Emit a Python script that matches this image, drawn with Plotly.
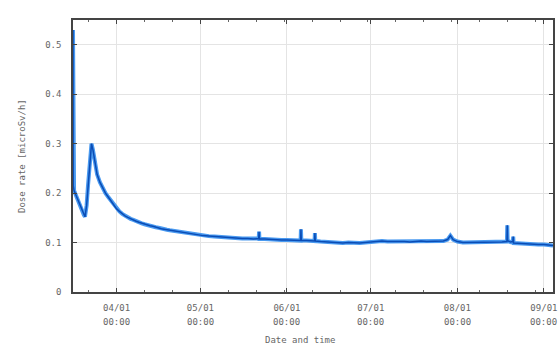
import plotly.graph_objects as go

# ---- data ----
times = [
    "2011-03-16 09:00", "2011-03-16 11:00", "2011-03-16 18:00", "2011-03-17 06:00", "2011-03-17 18:00",
    "2011-03-18 06:00", "2011-03-18 18:00", "2011-03-19 06:00", "2011-03-19 18:00", "2011-03-20 06:00",
    "2011-03-20 16:00", "2011-03-21 06:00", "2011-03-21 18:00", "2011-03-22 06:00", "2011-03-22 18:00",
    "2011-03-23 00:00", "2011-03-23 12:00", "2011-03-24 00:00", "2011-03-24 12:00", "2011-03-25 00:00",
    "2011-03-26 00:00", "2011-03-27 00:00", "2011-03-28 00:00", "2011-03-29 00:00", "2011-03-30 00:00",
    "2011-03-31 00:00", "2011-04-01 00:00", "2011-04-02 00:00", "2011-04-03 00:00", "2011-04-04 00:00",
    "2011-04-05 00:00", "2011-04-06 00:00", "2011-04-07 00:00", "2011-04-08 00:00", "2011-04-09 00:00",
    "2011-04-10 00:00", "2011-04-11 00:00", "2011-04-12 00:00", "2011-04-13 00:00", "2011-04-14 00:00",
    "2011-04-15 00:00", "2011-04-16 00:00", "2011-04-17 00:00", "2011-04-18 00:00", "2011-04-19 00:00",
    "2011-04-20 00:00", "2011-04-22 00:00", "2011-04-24 00:00", "2011-04-26 00:00", "2011-04-28 00:00",
    "2011-04-30 00:00", "2011-05-02 00:00", "2011-05-04 00:00", "2011-05-06 00:00", "2011-05-08 00:00",
    "2011-05-10 00:00", "2011-05-12 00:00", "2011-05-14 00:00", "2011-05-16 00:00", "2011-05-18 00:00",
    "2011-05-20 00:00", "2011-05-21 21:00", "2011-05-22 00:00", "2011-05-22 03:00", "2011-05-24 00:00",
    "2011-05-26 00:00", "2011-05-28 00:00", "2011-05-30 00:00", "2011-06-01 00:00", "2011-06-03 00:00",
    "2011-06-05 21:00", "2011-06-06 00:00", "2011-06-06 03:00", "2011-06-08 00:00", "2011-06-10 00:00",
    "2011-06-10 21:00", "2011-06-11 00:00", "2011-06-11 03:00", "2011-06-13 00:00", "2011-06-15 00:00",
    "2011-06-17 00:00", "2011-06-19 00:00", "2011-06-21 00:00", "2011-06-23 00:00", "2011-06-25 00:00",
    "2011-06-27 00:00", "2011-06-29 00:00", "2011-07-01 00:00", "2011-07-03 00:00", "2011-07-05 00:00",
    "2011-07-07 00:00", "2011-07-09 00:00", "2011-07-11 00:00", "2011-07-13 00:00", "2011-07-15 00:00",
    "2011-07-17 00:00", "2011-07-19 00:00", "2011-07-21 00:00", "2011-07-23 00:00", "2011-07-25 00:00",
    "2011-07-27 00:00", "2011-07-28 12:00", "2011-07-29 12:00", "2011-07-30 12:00", "2011-08-01 00:00",
    "2011-08-03 00:00", "2011-08-05 00:00", "2011-08-07 00:00", "2011-08-09 00:00", "2011-08-11 00:00",
    "2011-08-13 00:00", "2011-08-15 00:00", "2011-08-17 00:00", "2011-08-18 18:00", "2011-08-18 21:00",
    "2011-08-19 00:00", "2011-08-20 00:00", "2011-08-20 21:00", "2011-08-21 00:00", "2011-08-21 03:00",
    "2011-08-24 00:00", "2011-08-26 00:00", "2011-08-28 00:00", "2011-08-30 00:00", "2011-09-01 00:00",
    "2011-09-03 00:00", "2011-09-04 06:00",
]
dose = [
    0.530, 0.215, 0.205, 0.198, 0.190,
    0.182, 0.175, 0.168, 0.162, 0.156,
    0.152, 0.175, 0.215, 0.255, 0.285,
    0.300, 0.288, 0.268, 0.252, 0.238,
    0.222, 0.210, 0.200, 0.192, 0.184,
    0.176, 0.168, 0.163, 0.158, 0.154,
    0.151, 0.148, 0.146, 0.143, 0.141,
    0.139, 0.137, 0.136, 0.134, 0.133,
    0.131, 0.130, 0.128, 0.127, 0.126,
    0.125, 0.123, 0.121, 0.119, 0.117,
    0.116, 0.114, 0.113, 0.112, 0.111,
    0.110, 0.110, 0.109, 0.108, 0.108,
    0.107, 0.108, 0.122, 0.107, 0.107,
    0.106, 0.106, 0.105, 0.105, 0.104,
    0.104, 0.127, 0.104, 0.104, 0.103,
    0.103, 0.119, 0.103, 0.102, 0.101,
    0.100, 0.100, 0.099, 0.100, 0.099,
    0.099, 0.100, 0.101, 0.102, 0.103,
    0.102, 0.102, 0.103, 0.102, 0.101,
    0.102, 0.103, 0.102, 0.102, 0.103,
    0.103, 0.106, 0.114, 0.106, 0.102,
    0.100, 0.100, 0.101, 0.100, 0.101,
    0.100, 0.100, 0.101, 0.102, 0.135,
    0.104, 0.101, 0.102, 0.112, 0.099,
    0.098, 0.097, 0.097, 0.096, 0.096,
    0.095, 0.094,
]

month_ticks = ["2011-04-01", "2011-05-01", "2011-06-01", "2011-07-01", "2011-08-01", "2011-09-01"]
month_labels = ["04/01", "05/01", "06/01", "07/01", "08/01", "09/01"]
time_labels = ["00:00", "00:00", "00:00", "00:00", "00:00", "00:00"]
y_ticks = [0, 0.1, 0.2, 0.3, 0.4, 0.5]
y_labels = ["0", "0.1", "0.2", "0.3", "0.4", "0.5"]

x_range = ["2011-03-16 09:00", "2011-09-04 06:00"]
y_range = [0, 0.55]

FONT = "DejaVu Sans Mono"
TXT = "#666666"

fig = go.Figure()
fig.add_trace(go.Scatter(x=times, y=dose, mode="lines",
                         line=dict(color="#4a9af0", width=4.0), hoverinfo="skip", showlegend=False))
fig.add_trace(go.Scatter(x=times, y=dose, mode="lines",
                         line=dict(color="#0a4cb5", width=1.5), showlegend=False))

for d, t in zip(month_ticks, time_labels):
    fig.add_annotation(x=d, xref="x", y=0, yref="paper", yshift=-30, yanchor="middle",
                       xanchor="center", text=t, showarrow=False,
                       font=dict(family=FONT, size=9, color=TXT))

fig.add_annotation(x=0.473, xref="paper", y=0, yref="paper", yshift=-48, yanchor="middle",
                   xanchor="center", text="Date and time",
                   showarrow=False, font=dict(family=FONT, size=9, color=TXT))
fig.add_annotation(x=0, xref="paper", xshift=-51, xanchor="center", y=0.5, yref="paper",
                   yanchor="middle", text="Dose rate [microSv/h]",
                   textangle=-90, showarrow=False, font=dict(family=FONT, size=9, color=TXT))

fig.update_layout(
    width=560, height=347,
    margin=dict(l=73, r=3, t=20, b=55),
    paper_bgcolor="white", plot_bgcolor="white",
    font=dict(family=FONT, size=9, color=TXT),
    xaxis=dict(
        type="date", range=x_range,
        tickmode="array", tickvals=month_ticks, ticktext=month_labels,
        ticks="inside", ticklen=4, tickcolor="#444",
        showline=True, linecolor="#444", linewidth=1.5, mirror="ticks",
        showgrid=True, gridcolor="#e4e4e4", gridwidth=1,
        zeroline=False,
        minor=dict(ticks="inside", ticklen=2, tickcolor="#666", dtick=864000000,
                   tick0="2011-04-01", showgrid=False),
        tickfont=dict(family=FONT, size=9, color=TXT),
        ticklabelstandoff=6,
    ),
    yaxis=dict(
        range=y_range,
        tickmode="array", tickvals=y_ticks, ticktext=y_labels,
        ticks="inside", ticklen=4, tickcolor="#444",
        showline=True, linecolor="#444", linewidth=1.5, mirror="ticks",
        showgrid=True, gridcolor="#e4e4e4", gridwidth=1,
        zeroline=False,
        tickfont=dict(family=FONT, size=9, color=TXT),
        ticklabelstandoff=8,
    ),
)

fig.write_html(
    "out.html",
    config={"displayModeBar": False},
    post_script="document.body.style.margin='0';document.body.style.overflow='hidden';",
)
